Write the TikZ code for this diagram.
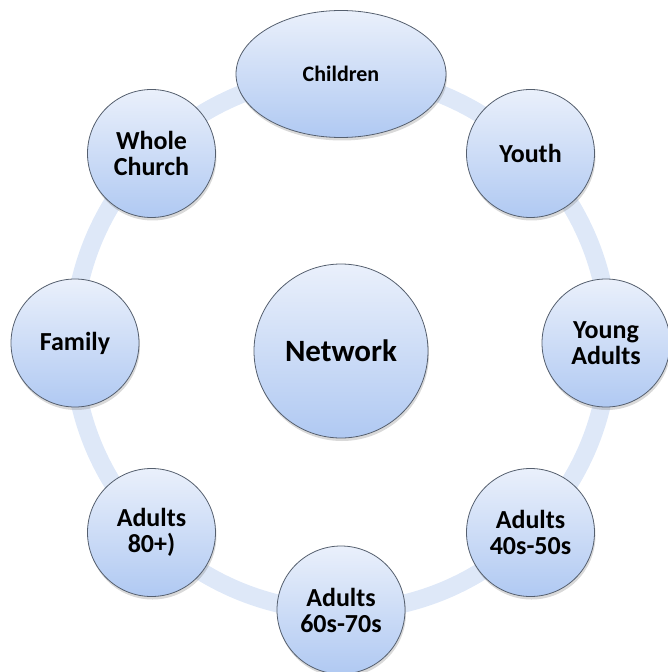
\documentclass[tikz,border=0pt]{standalone}
\usepackage{fontspec}
\setmainfont{Carlito}
\usetikzlibrary{shapes.geometric,shadows}
\definecolor{bubtop}{RGB}{234,240,251}
\definecolor{bubbot}{RGB}{176,201,242}
\definecolor{bubline}{RGB}{85,95,110}
\definecolor{ringcol}{RGB}{222,232,248}

\begin{document}
\begin{tikzpicture}[x=1pt,y=1pt,
    bubble/.style={shape=circle,draw=bubline,line width=0.8pt,top color=bubtop,bottom color=bubbot,
        minimum size=128pt,inner sep=0pt,align=center,font=\fontsize{26}{26}\selectfont\bfseries,
        drop shadow={shadow xshift=1pt,shadow yshift=-3pt,opacity=0.3}}]
                \useasboundingbox (-341,-329) rectangle (327,343);
                \draw[ringcol,line width=18pt](0,0) circle (268);
                \node[bubble,minimum size=174pt,font=\fontsize{31}{36}\selectfont\bfseries](network)at(0, -8){Network};
                \node[bubble,shape=ellipse,minimum width=210pt,minimum height=127pt,font=\fontsize{22}{26}\selectfont\bfseries](children)at(90:269){Children};
                \node[bubble](youth)at(45:268){Youth};
                \node[bubble](young)at(0:265){Young\\Adults};
                \node[bubble](adults45)at(-45:268){Adults\\40s-50s};
                \node[bubble](adults67)at(-90:267){Adults\\60s-70s};
                \node[bubble](adults80)at(-135:268){Adults\\80+)};
                \node[bubble](family)at(180:266){Family};
                \node[bubble](whole)at(135:268){Whole\\Church};
            \end{tikzpicture}
\end{document}
